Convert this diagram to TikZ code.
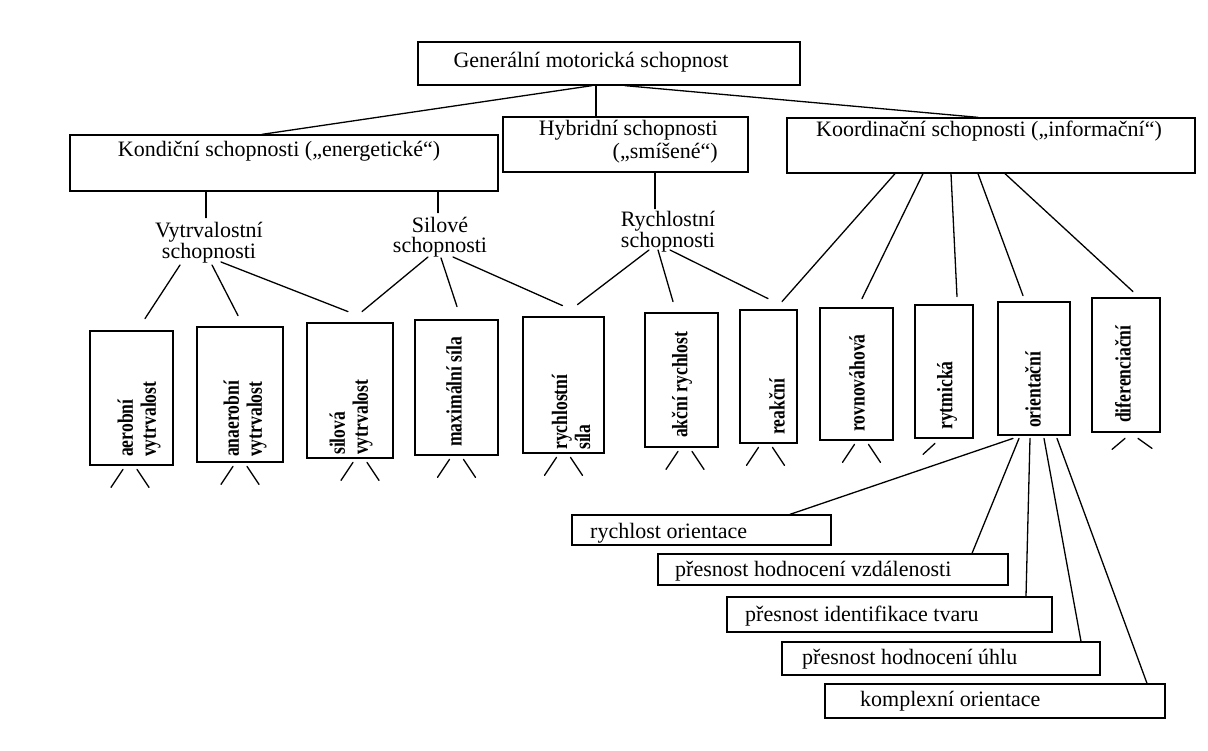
\documentclass[tikz,border=0pt]{standalone}
\usepackage{fontspec}
\setmainfont{Liberation Serif}
\newfontfamily\vfont{Liberation Serif}[FakeStretch=0.8]
\usetikzlibrary{calc}
\newcommand\twostubs[2]{%
  \draw[con] ($(#1.south)+(#2-7,3)$) -- ($(#1.south)+(#2-19,21)$);
  \draw[con] ($(#1.south)+(#2+7,3)$) -- ($(#1.south)+(#2+19,21)$);}
\begin{document}
\begin{tikzpicture}[x=1pt,y=-1pt,
  hbox/.style={draw, line width=1.3pt, inner sep=0pt},
  vbox/.style={draw, line width=2.8pt, inner sep=0pt},
  txt/.style={inner sep=0pt, font=\fontsize{22}{20}\selectfont},
  vtxt/.style={inner sep=0pt, rotate=90, anchor=west, align=left, font=\vfont\bfseries\fontsize{22}{23}\selectfont},
  con/.style={line width=1.3pt, line cap=round}]
\useasboundingbox (0,0) rectangle (1208,751);

% top level
\node[hbox, minimum width=382pt, minimum height=43pt] (gen) at (609,63.5) {};
\node[txt, anchor=base] (gent) at (591,68) {Generální motorická schopnost};

\node[hbox, minimum width=428pt, minimum height=56pt] (kond) at (284,163) {};
\node[txt, anchor=base] (kondt) at (279,157) {Kondiční schopnosti („energetické“)};
\node[hbox, minimum width=245pt, minimum height=55pt] (hyb) at (625.5,144.5) {};
\node[txt, align=right, anchor=south east, font=\fontsize{22}{23}\selectfont] (hybt) at (718,163) {Hybridní schopnosti\\(„smíšené“)};
\node[hbox, minimum width=408pt, minimum height=55pt] (koord) at (991,145.5) {};
\node[txt, anchor=base] (koordt) at (989,137) {Koordinační schopnosti („informační“)};

% middle labels
\node[txt, align=center, anchor=south] (vytr) at (209,263) {Vytrvalostní\\schopnosti};
\node[txt, align=center, anchor=south] (sil) at (440,257) {Silové\\schopnosti};
\node[txt, align=center, anchor=south] (rych) at (668,252) {Rychlostní\\schopnosti};

% vertical boxes
\node[vbox, minimum width=83pt, minimum height=134pt] (b1) at (131.5,398) {};
\node[vbox, minimum width=86pt, minimum height=135pt] (b2) at (240,394.5) {};
\node[vbox, minimum width=86pt, minimum height=135pt] (b3) at (350,390.5) {};
\node[vbox, minimum width=83pt, minimum height=135pt] (b4) at (456.5,387.5) {};
\node[vbox, minimum width=81pt, minimum height=136pt] (b5) at (563.5,385) {};
\node[vbox, minimum width=73pt, minimum height=134pt] (b6) at (681.5,380) {};
\node[vbox, minimum width=57pt, minimum height=133pt] (b7) at (768.5,376.5) {};
\node[vbox, minimum width=73pt, minimum height=132pt] (b8) at (856.5,374) {};
\node[vbox, minimum width=58pt, minimum height=133pt] (b9) at (944,371.5) {};
\node[vbox, minimum width=72pt, minimum height=133pt] (b10) at (1034,368.5) {};
\node[vbox, minimum width=68pt, minimum height=134pt] (b11) at (1126,365) {};

\node[vtxt] (t1) at (139,457) {aerobní\\vytrvalost};
\node[vtxt] (t2) at (245,457) {anaerobní\\vytrvalost};
\node[vtxt] (t3) at (351,455) {silová\\vytrvalost};
\node[vtxt] (t4) at (454,447) {maximální síla};
\node[vtxt] (t5) at (571,450) {rychlostní\\síla};
\node[vtxt] (t6) at (682,438) {akční rychlost};
\node[vtxt] (t7) at (777,435) {reakční};
\node[vtxt] (t8) at (857,432) {rovnováhová};
\node[vtxt] (t9) at (947,430) {rytmická};
\node[vtxt] (t10) at (1033,428) {orientační};
\node[vtxt] (t11) at (1123,423) {diferenciační};

% orientation sub-boxes
\node[hbox, minimum width=259pt, minimum height=30pt] (s1) at (701.5,530) {};
\node[txt, anchor=base west] (s1t) at (590,538) {rychlost orientace};
\node[hbox, minimum width=350pt, minimum height=31pt] (s2) at (833,569.5) {};
\node[txt, anchor=base west] (s2t) at (675,576) {přesnost hodnocení vzdálenosti};
\node[hbox, minimum width=325pt, minimum height=35pt] (s3) at (889.5,614.5) {};
\node[txt, anchor=base west] (s3t) at (745,621) {přesnost identifikace tvaru};
\node[hbox, minimum width=318pt, minimum height=33pt] (s4) at (941,658.5) {};
\node[txt, anchor=base west] (s4t) at (802,664) {přesnost hodnocení úhlu};
\node[hbox, minimum width=340pt, minimum height=34pt] (s5) at (995,701) {};
\node[txt, anchor=base west] (s5t) at (860,706) {komplexní orientace};

% connectors from top
\draw[con] ($(gen.south)+(-17,0)$) -- ($(kond.north)+(-22,0)$);
\draw[con] ($(gen.south)+(-13,0)$) -- ($(hyb.north)+(-29.5,0)$);
\draw[con] ($(gen.south)+(16,0)$) -- ($(koord.north)+(-13,0)$);

\draw[con] ($(kond.south)+(-78,0)$) -- ($(vytr.north)+(-3,-4)$);
\draw[con] ($(kond.south)+(154,0)$) -- ($(sil.north)+(-2,-4)$);
\draw[con] ($(hyb.south)+(29.5,0)$) -- ($(rych.north)+(-13,-2)$);

% koordinacni
\draw[con] ($(koord.south)+(-96,0)$) -- ($(b7.north)+(13.5,-7)$);
\draw[con] ($(koord.south)+(-68,0)$) -- ($(b8.north)+(5.5,-8)$);
\draw[con] ($(koord.south)+(-40,0)$) -- ($(b9.north)+(13,-7)$);
\draw[con] ($(koord.south)+(-13,0)$) -- ($(b10.north)+(-11,-5)$);
\draw[con] ($(koord.south)+(14,0)$) -- ($(b11.north)+(7,-5)$);

% vytrvalostni
\draw[con] ($(vytr.south)+(-29,2)$) -- ($(b1.north)+(13.5,-11)$);
\draw[con] ($(vytr.south)+(3,2)$) -- ($(b2.north)+(-2,-10)$);
\draw[con] ($(vytr.south)+(12,-1)$) -- ($(b3.north)+(-2,-10)$);
% silove
\draw[con] ($(sil.south)+(-12,0)$) -- ($(b3.north)+(12,-10)$);
\draw[con] ($(sil.south)+(1,1)$) -- ($(b4.north)+(0.5,-12)$);
\draw[con] ($(sil.south)+(13,0)$) -- ($(b5.north)+(-1,-10)$);
% rychlostni
\draw[con] ($(rych.south)+(-19,-2)$) -- ($(b5.north)+(14,-11)$);
\draw[con] ($(rych.south)+(-10,-2)$) -- ($(b6.north)+(-8.5,-10)$);
\draw[con] ($(rych.south)+(2,-2)$) -- ($(b7.north)+(-0.5,-10)$);

% orientacni
\draw[con] ($(b10.south)+(-21,2)$) -- ($(s1.north)+(88.5,0)$);
\draw[con] ($(b10.south)+(-15,2)$) -- ($(s2.north)+(139,0)$);
\draw[con] ($(b10.south)+(-4,2)$) -- ($(s3.north)+(136.5,0)$);
\draw[con] ($(b10.south)+(10,2)$) -- ($(s4.north)+(140,0)$);
\draw[con] ($(b10.south)+(23,2)$) -- ($(s5.north)+(152,0)$);

% stubs below boxes
\twostubs{b1}{-1.5}
\twostubs{b2}{0}
\twostubs{b3}{10}
\twostubs{b4}{0}
\twostubs{b5}{0}
\twostubs{b6}{3.5}
\twostubs{b7}{-3}
\twostubs{b8}{5}
\draw[con] ($(b9.south)+(-9,4)$) -- ($(b9.south)+(-21,15)$);
\draw[con] ($(b11.south)+(-1,5)$) -- ($(b11.south)+(-14,16)$);
\draw[con] ($(b11.south)+(12,5)$) -- ($(b11.south)+(26,15)$);
\end{tikzpicture}
\end{document}
